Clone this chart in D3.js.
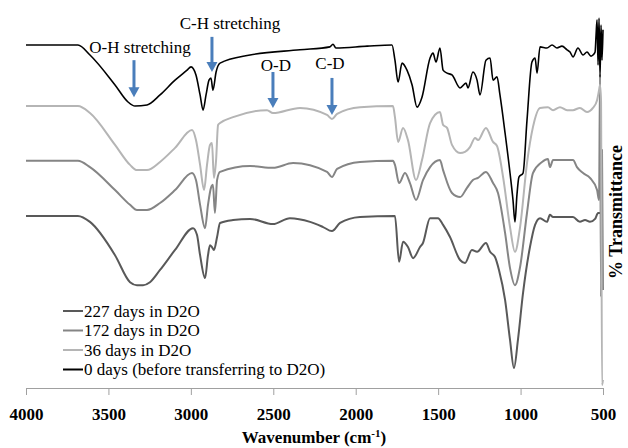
<!DOCTYPE html>
<html>
<head>
<meta charset="utf-8">
<script src="https://cdn.jsdelivr.net/npm/d3@7"></script>
<style>
  html, body { margin: 0; padding: 0; background: #fff; }
  svg { display: block; }
  text { font-family: "Liberation Serif", "Times New Roman", serif; }
</style>
</head>
<body>
<svg id="chart" width="628" height="448"></svg>
<script>
// ---------- DATA ----------
const xTicks = [4000, 3500, 3000, 2500, 2000, 1500, 1000, 500];

// [wavenumber (cm-1), % transmittance (offset)]
const days0 = [
  [4000,92.7],[3685,92.7],[3612,90.0],[3460,81.9],[3381,77.3],[3339,76.2],[3266,76.5],[3187,79.2],
  [3096,83.2],[3023,85.9],[2999,86.8],[2969,84.6],[2944,79.2],[2926,75.1],[2908,79.2],[2890,83.2],
  [2878,83.8],[2866,80.5],[2847,85.4],[2823,87.8],[2641,90.0],[2338,91.4],[2156,92.2],[2138,92.9],
  [2120,91.9],[1931,92.4],[1780,92.7],[1762,88.6],[1743,82.7],[1719,87.8],[1689,85.9],[1658,81.9],
  [1628,75.9],[1598,78.6],[1549,89.2],[1531,90.5],[1513,88.1],[1489,91.9],[1470,85.9],[1446,85.1],
  [1416,84.6],[1367,81.1],[1331,82.4],[1319,81.1],[1289,85.4],[1264,83.2],[1246,79.2],[1210,88.6],
  [1185,89.2],[1167,83.2],[1143,84.1],[1125,79.2],[1094,68.9],[1064,58.1],[1046,50.8],[1034,44.9],
  [1022,52.2],[1010,57.0],[985,58.1],[961,72.4],[931,88.1],[912,89.2],[900,85.1],[882,92.2],
  [840,91.9],[809,92.7],[779,91.9],[749,92.4],[718,91.4],[700,90.8],[682,89.5],[652,91.9],
  [621,90.0],[597,90.8],[573,89.7],[561,90.0],[548,90.8],[542,95.4],[536,99.5],[530,87.3],
  [524,100],[518,84.1],[512,98.1],[506,88.6],[500,96.8]
];

const days36 = [
  [4000,76.2],[3685,76.2],[3612,74.3],[3460,65.7],[3369,60.3],[3327,58.9],[3266,58.9],[3187,61.1],
  [3096,64.9],[2993,69.7],[2969,67.0],[2944,60.3],[2920,53.5],[2902,60.3],[2884,65.7],[2872,66.2],
  [2860,56.8],[2847,61.6],[2835,71.1],[2823,71.6],[2744,73.2],[2538,75.1],[2502,74.3],[2338,75.7],
  [2174,73.8],[2144,72.7],[2113,74.1],[1974,75.9],[1774,76.2],[1762,73.2],[1743,66.5],[1713,70.3],
  [1683,67.0],[1634,56.2],[1598,61.6],[1549,71.6],[1489,74.6],[1470,71.1],[1446,70.3],[1416,65.7],
  [1367,63.5],[1337,63.8],[1307,65.1],[1276,67.6],[1258,67.0],[1210,70.3],[1167,66.5],[1143,65.4],
  [1106,57.0],[1064,43.5],[1034,36.8],[1003,43.5],[961,60.8],[925,70.5],[882,75.7],[834,75.9],
  [803,75.1],[761,75.9],[718,75.1],[682,75.1],[640,75.7],[597,74.6],[561,75.7],[536,77.8],
  [524,80.5],[518,81.9],[512,77.8],[506,0.8],[500,2.2]
];

const days172 = [
  [4000,61.4],[3685,61.4],[3612,59.7],[3460,53.5],[3369,49.5],[3327,48.1],[3266,48.1],[3187,50.0],
  [3096,53.5],[2993,58.1],[2969,56.2],[2944,49.5],[2914,43.2],[2896,49.5],[2878,54.1],[2866,54.9],
  [2854,47.3],[2841,56.2],[2823,58.4],[2641,60.0],[2502,59.5],[2380,60.8],[2174,58.4],[2144,57.0],
  [2113,59.2],[1974,61.1],[1774,61.4],[1762,60.3],[1737,55.4],[1701,58.1],[1671,55.4],[1634,50.8],
  [1592,56.2],[1549,59.7],[1489,61.6],[1470,58.9],[1416,52.7],[1367,51.6],[1325,54.1],[1289,56.2],
  [1258,56.8],[1210,58.4],[1167,55.4],[1137,52.7],[1094,41.9],[1064,32.4],[1034,27.8],[1003,32.7],
  [961,47.3],[925,58.1],[870,61.1],[834,61.9],[822,59.7],[803,61.6],[682,61.6],[658,59.7],
  [621,58.1],[579,56.8],[536,53.5],[524,50.8],[518,84.6],[512,24.6],[506,64.3],[500,26.5]
];

const days227 = [
  [4000,46.5],[3685,46.5],[3612,44.9],[3460,35.9],[3369,28.6],[3327,27.8],[3290,27.8],[3248,28.6],
  [3187,31.9],[3096,37.3],[2987,43.2],[2963,41.4],[2944,35.9],[2914,29.7],[2896,35.9],[2884,38.6],
  [2872,38.1],[2860,37.3],[2841,40.8],[2823,44.6],[2744,45.4],[2641,45.7],[2502,44.3],[2399,45.9],
  [2277,44.9],[2198,43.5],[2144,42.4],[2095,44.6],[1974,46.2],[1762,46.5],[1737,34.1],[1713,39.5],
  [1683,38.1],[1652,35.1],[1610,38.1],[1592,39.2],[1549,45.9],[1501,45.9],[1470,44.1],[1428,40.8],
  [1367,34.6],[1337,33.8],[1295,37.3],[1264,36.8],[1210,39.2],[1185,36.8],[1155,35.4],[1131,31.9],
  [1094,23.8],[1064,13.0],[1040,5.4],[1016,13.0],[985,25.7],[943,38.1],[912,44.1],[882,45.9],
  [840,44.9],[822,46.8],[803,46.2],[682,46.2],[640,44.9],[609,45.4],[579,44.9],[548,45.7],
  [530,47.3],[518,47.3]
];

const seriesNames = ["227 days in D2O", "172 days in D2O", "36 days in D2O", "0 days (before transferring to D2O)"];
const seriesColors = ["#595959", "#858585", "#b5b5b5", "#000000"];
const seriesData = [days227, days172, days36, days0];

// annotations
const annoLabels = ["O-H stretching", "C-H stretching", "O-D", "C-D"];
const annoArrowX = [3345, 2872, 2502, 2144];
const annoArrowTop = [88.6, 94.9, 85.4, 83.8];
const annoArrowTip = [78.6, 85.4, 75.7, 73.8];
const annoLabelX = [3308, 2763, 2484, 2156];
const annoLabelY = [92.2, 98.6, 87.3, 87.8];

// ---------- CHART ----------
const svg = d3.select("#chart");
const x = d3.scaleLinear().domain([4000, 500]).range([26, 603]);
const y = d3.scaleLinear().domain([0, 100]).range([388, 18]);

// x axis
const axis = d3.axisBottom(x).tickValues(xTicks).tickFormat(d3.format("d"))
  .tickSize(7).tickSizeOuter(0).tickPadding(13);
const gx = svg.append("g").attr("transform", `translate(0,${y(0)})`).call(axis);
gx.select(".domain").attr("stroke", "#a0a0a0").attr("stroke-width", 1);
gx.selectAll(".tick line").attr("stroke", "#a0a0a0");
gx.selectAll(".tick text")
  .attr("font-size", 17).attr("font-weight", "bold").attr("fill", "#000");

// axis title
const title = svg.append("text")
  .attr("x", 314).attr("y", 443).attr("text-anchor", "middle")
  .attr("font-size", 17).attr("font-weight", "bold");
title.append("tspan").text("Wavenumber (cm");
title.append("tspan").attr("font-size", 11).attr("dy", -6).text("-1");
title.append("tspan").attr("dy", 6).text(")");

svg.append("text")
  .attr("transform", "translate(622,212) rotate(-90)")
  .attr("text-anchor", "middle").attr("font-size", 18).attr("font-weight", "bold")
  .text("% Transmittance");

// lines
const line = d3.line().x(d => x(d[0])).y(d => y(d[1])).curve(d3.curveMonotoneX);
const widths = [2, 2, 2, 1.6];
seriesData.forEach((data, i) => {
  svg.append("path").datum(data)
    .attr("d", line).attr("fill", "none")
    .attr("stroke", seriesColors[i]).attr("stroke-width", widths[i])
    .attr("stroke-linejoin", "round");
});

// annotations
const blue = "#4a7ebb";
annoLabels.forEach((lab, i) => {
  const ax = x(annoArrowX[i]);
  const yTop = y(annoArrowTop[i]);
  const yTip = y(annoArrowTip[i]);
  svg.append("line").attr("x1", ax).attr("x2", ax).attr("y1", yTop).attr("y2", yTip - 8)
    .attr("stroke", blue).attr("stroke-width", 3);
  svg.append("path")
    .attr("d", `M${ax - 5.5},${yTip - 10} L${ax + 5.5},${yTip - 10} L${ax},${yTip} Z`)
    .attr("fill", blue);
  svg.append("text").attr("x", x(annoLabelX[i])).attr("y", y(annoLabelY[i]))
    .attr("dy", "0.35em").attr("text-anchor", "middle").attr("font-size", 17)
    .text(lab);
});

// legend
const legend = svg.append("g").attr("transform", "translate(63,311)");
seriesNames.forEach((name, i) => {
  const g = legend.append("g").attr("transform", `translate(0,${i * 19.5})`);
  g.append("line").attr("x1", 0).attr("x2", 20).attr("y1", 0).attr("y2", 0)
    .attr("stroke", seriesColors[i]).attr("stroke-width", 2);
  g.append("text").attr("x", 21).attr("y", 0).attr("dy", "0.35em")
    .attr("font-size", 17).text(name);
});
</script>
</body>
</html>
